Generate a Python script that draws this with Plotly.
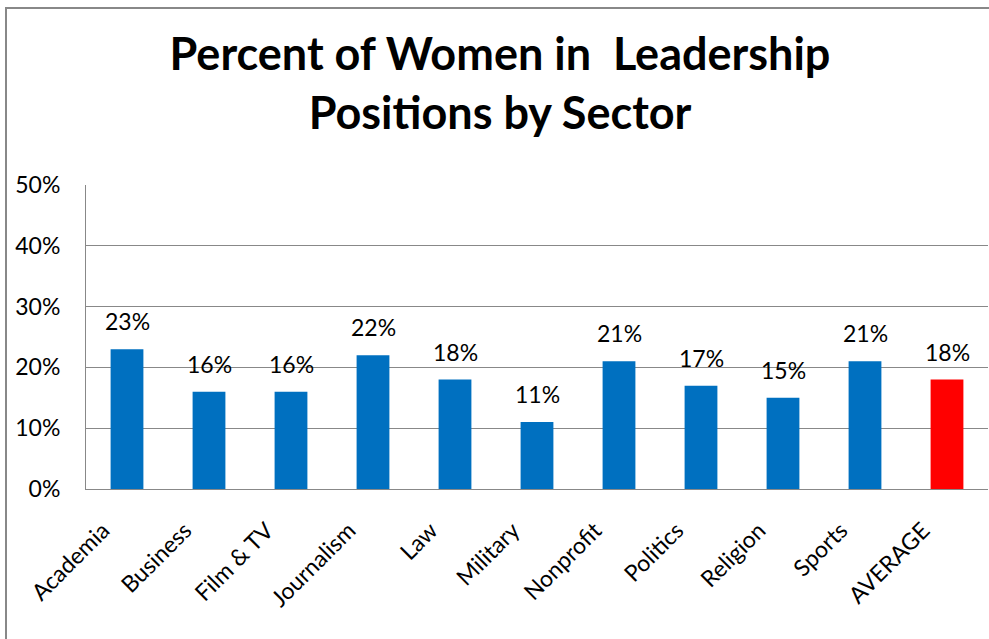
import plotly.graph_objects as go

categories = ["Academia", "Business", "Film & TV", "Journalism", "Law", "Military",
              "Nonprofit", "Politics", "Religion", "Sports", "AVERAGE"]
values = [0.23, 0.16, 0.16, 0.22, 0.18, 0.11, 0.21, 0.17, 0.15, 0.21, 0.18]
labels = ["23%", "16%", "16%", "22%", "18%", "11%", "21%", "17%", "15%", "21%", "18%"]
colors = ["#0070C0"] * 10 + ["#FF0000"]

W, H = 989, 639
L, R, T, B = 86, 1, 185, 150
pw, ph = W - L - R, H - T - B
FONT = "Lato"

fig = go.Figure(go.Bar(
    x=categories, y=values, marker_color=colors, marker_line_width=0,
))

for c, v, t in zip(categories, values, labels):
    fig.add_annotation(x=c, y=v, text=t, showarrow=False, yanchor="bottom",
                       yshift=12, font=dict(size=23, family=FONT, color="#000000"))

def px_x(p):
    return (p - L) / pw

def px_y(p):
    return (H - B - p) / ph

fig.update_layout(
    width=W, height=H,
    margin=dict(l=L, r=R, t=T, b=B),
    paper_bgcolor="white", plot_bgcolor="white",
    bargap=0.6,
    showlegend=False,
    font=dict(family=FONT, color="#000000"),
    title=dict(
        text="<b>Percent of Women in  Leadership<br>Positions by Sector</b>",
        x=500 / W, xref="container", xanchor="center",
        y=1 - 70 / H, yref="container", yanchor="top",
        font=dict(size=45, family=FONT, color="#000000"),
    ),
    xaxis=dict(
        tickangle=-45, tickfont=dict(size=23, family=FONT),
        showline=True, linecolor="#888888", linewidth=1,
        showgrid=False, ticks="", ticklabelshift=-24, ticklabelstandoff=18,
    ),
    yaxis=dict(
        range=[0, 0.5], dtick=0.1, tickformat=".0%",
        tickfont=dict(size=23, family=FONT),
        showgrid=True, gridcolor="#888888", gridwidth=1,
        showline=True, linecolor="#888888", linewidth=1,
        zeroline=False, ticks="", ticklabelstandoff=20,
    ),
    shapes=[dict(
        type="rect", xref="paper", yref="paper",
        x0=px_x(6), x1=px_x(W + 20), y0=px_y(H + 20), y1=px_y(8),
        line=dict(color="#888888", width=2), fillcolor="rgba(0,0,0,0)", layer="below",
    )],
)

fig.write_html("out.html", config={"displayModeBar": False},
               post_script="document.body.style.margin='0';document.body.style.overflow='hidden';")
